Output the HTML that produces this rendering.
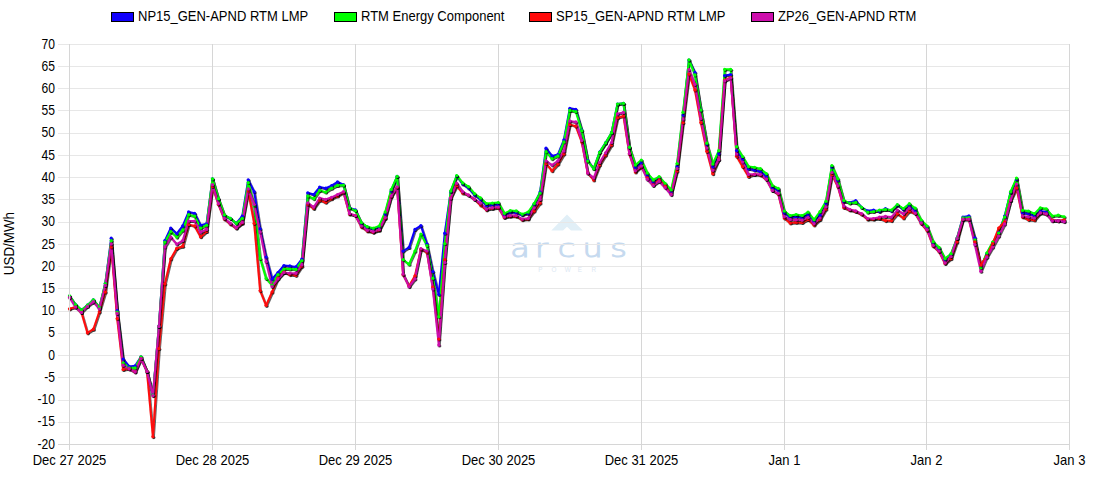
<!DOCTYPE html>
<html><head><meta charset="utf-8"><title>Chart</title>
<style>
html,body{margin:0;padding:0;background:#fff;}
body{width:1100px;height:500px;overflow:hidden;position:relative;}
svg{position:absolute;left:0;top:0;}
text{font-family:"Liberation Sans",Arial,sans-serif;font-size:13px;fill:#000;}
</style></head><body>
<svg width="1100" height="500" viewBox="0 0 1100 500">
<defs><filter id="sh" x="-5%" y="-5%" width="110%" height="110%"><feDropShadow dx="0.8" dy="1" stdDeviation="0.4" flood-color="#000" flood-opacity="0.75"/></filter></defs>
<g>
<polygon points="567,214.6 582.8,230.6 571,230.6 567,226.8 563,230.6 551.3,230.6" fill="#e1eff7"/>
<text transform="translate(0,256.5) scale(1.3,1)" x="392.46 411.6 429.05 448.15 469.35" style="font-family:'DejaVu Sans',sans-serif;font-weight:200;font-size:24.5px;fill:#c6daef;stroke:#c6daef;stroke-width:1px">arcus</text>
<text x="538.2 551.4 564.7 577.8 591.4" y="271.8" style="font-size:6.3px;fill:#dbe7f3">POWER</text>
</g>
<rect x="58" y="44" width="1012" height="1" fill="#e7e7e7"/>
<rect x="58" y="66" width="1012" height="1" fill="#e7e7e7"/>
<rect x="58" y="88" width="1012" height="1" fill="#e7e7e7"/>
<rect x="58" y="110" width="1012" height="1" fill="#e7e7e7"/>
<rect x="58" y="133" width="1012" height="1" fill="#e7e7e7"/>
<rect x="58" y="155" width="1012" height="1" fill="#e7e7e7"/>
<rect x="58" y="177" width="1012" height="1" fill="#e7e7e7"/>
<rect x="58" y="199" width="1012" height="1" fill="#e7e7e7"/>
<rect x="58" y="222" width="1012" height="1" fill="#e7e7e7"/>
<rect x="58" y="244" width="1012" height="1" fill="#e7e7e7"/>
<rect x="58" y="266" width="1012" height="1" fill="#e7e7e7"/>
<rect x="58" y="288" width="1012" height="1" fill="#e7e7e7"/>
<rect x="58" y="311" width="1012" height="1" fill="#e7e7e7"/>
<rect x="58" y="333" width="1012" height="1" fill="#e7e7e7"/>
<rect x="58" y="355" width="1012" height="1" fill="#e7e7e7"/>
<rect x="58" y="377" width="1012" height="1" fill="#e7e7e7"/>
<rect x="58" y="400" width="1012" height="1" fill="#e7e7e7"/>
<rect x="58" y="422" width="1012" height="1" fill="#e7e7e7"/>
<rect x="58" y="444" width="1012" height="1" fill="#d6d6d6"/>
<rect x="69" y="44" width="1" height="406" fill="#d6d6d6"/>
<rect x="212" y="44" width="1" height="406" fill="#d6d6d6"/>
<rect x="355" y="44" width="1" height="406" fill="#d6d6d6"/>
<rect x="498" y="44" width="1" height="406" fill="#d6d6d6"/>
<rect x="641" y="44" width="1" height="406" fill="#d6d6d6"/>
<rect x="784" y="44" width="1" height="406" fill="#d6d6d6"/>
<rect x="926" y="44" width="1" height="406" fill="#d6d6d6"/>
<rect x="1069" y="44" width="1" height="406" fill="#d6d6d6"/>
<text transform="translate(54.9,48.60) scale(0.93,1.1)" text-anchor="end">70</text>
<text transform="translate(54.9,70.82) scale(0.93,1.1)" text-anchor="end">65</text>
<text transform="translate(54.9,93.04) scale(0.93,1.1)" text-anchor="end">60</text>
<text transform="translate(54.9,115.27) scale(0.93,1.1)" text-anchor="end">55</text>
<text transform="translate(54.9,137.49) scale(0.93,1.1)" text-anchor="end">50</text>
<text transform="translate(54.9,159.71) scale(0.93,1.1)" text-anchor="end">45</text>
<text transform="translate(54.9,181.93) scale(0.93,1.1)" text-anchor="end">40</text>
<text transform="translate(54.9,204.16) scale(0.93,1.1)" text-anchor="end">35</text>
<text transform="translate(54.9,226.38) scale(0.93,1.1)" text-anchor="end">30</text>
<text transform="translate(54.9,248.60) scale(0.93,1.1)" text-anchor="end">25</text>
<text transform="translate(54.9,270.82) scale(0.93,1.1)" text-anchor="end">20</text>
<text transform="translate(54.9,293.04) scale(0.93,1.1)" text-anchor="end">15</text>
<text transform="translate(54.9,315.27) scale(0.93,1.1)" text-anchor="end">10</text>
<text transform="translate(54.9,337.49) scale(0.93,1.1)" text-anchor="end">5</text>
<text transform="translate(54.9,359.71) scale(0.93,1.1)" text-anchor="end">0</text>
<text transform="translate(54.9,381.93) scale(0.93,1.1)" text-anchor="end">-5</text>
<text transform="translate(54.9,404.16) scale(0.93,1.1)" text-anchor="end">-10</text>
<text transform="translate(54.9,426.38) scale(0.93,1.1)" text-anchor="end">-15</text>
<text transform="translate(54.9,448.60) scale(0.93,1.1)" text-anchor="end">-20</text>
<text transform="translate(69.5,465) scale(1,1.1)" text-anchor="middle">Dec 27 2025</text>
<text transform="translate(212.5,465) scale(1,1.1)" text-anchor="middle">Dec 28 2025</text>
<text transform="translate(355.5,465) scale(1,1.1)" text-anchor="middle">Dec 29 2025</text>
<text transform="translate(498.5,465) scale(1,1.1)" text-anchor="middle">Dec 30 2025</text>
<text transform="translate(641.5,465) scale(1,1.1)" text-anchor="middle">Dec 31 2025</text>
<text transform="translate(784.5,465) scale(1,1.1)" text-anchor="middle">Jan 1</text>
<text transform="translate(926.5,465) scale(1,1.1)" text-anchor="middle">Jan 2</text>
<text transform="translate(1069.5,465) scale(1,1.1)" text-anchor="middle">Jan 3</text>
<text transform="translate(13.5,243.6) rotate(-90) scale(1.03,1.1)" text-anchor="middle">USD/MWh</text>
<rect x="111.5" y="12.5" width="22" height="9" fill="#1100fc" stroke="#000" stroke-width="1"/>
<text transform="translate(138,21) scale(1,1.1)">NP15_GEN-APND RTM LMP</text>
<rect x="334.5" y="12.5" width="22" height="9" fill="#00ff00" stroke="#000" stroke-width="1"/>
<text transform="translate(361,21) scale(1,1.1)">RTM Energy Component</text>
<rect x="529.5" y="12.5" width="22" height="9" fill="#ff0a0a" stroke="#000" stroke-width="1"/>
<text transform="translate(556,21) scale(1,1.1)">SP15_GEN-APND RTM LMP</text>
<rect x="751.5" y="12.5" width="22" height="9" fill="#cd0fac" stroke="#000" stroke-width="1"/>
<text transform="translate(778,21) scale(1,1.1)">ZP26_GEN-APND RTM</text>
<g fill="none" stroke-width="2" stroke-linejoin="round" stroke-linecap="round">
<polyline points="69.50,296.0 75.46,304.6 81.41,310.0 87.37,305.2 93.32,299.8 99.28,307.4 105.24,283.6 111.19,238.2 117.15,310.6 123.10,359.0 129.06,366.4 135.02,365.8 140.97,356.8 146.93,371.4 152.88,395.0 158.84,326.4 164.80,240.6 170.75,228.0 176.71,233.6 182.66,225.9 188.62,211.9 194.58,213.3 200.53,225.2 206.49,223.8 212.44,178.8 218.40,199.0 224.36,215.5 230.31,218.3 236.27,223.2 242.22,216.2 248.18,179.8 254.14,191.7 260.09,228.7 266.05,257.0 272.00,279.0 277.96,272.5 283.92,265.5 289.87,265.9 295.83,266.9 301.78,259.2 307.74,192.8 313.70,194.5 319.65,187.1 325.61,188.2 331.56,185.7 337.52,181.9 343.48,184.7 349.43,207.8 355.39,209.9 361.34,223.2 367.30,227.2 373.26,228.8 379.21,227.4 385.17,214.1 391.12,191.0 397.08,176.3 403.04,251.0 408.99,247.4 414.95,229.4 420.90,225.6 426.86,243.8 432.82,271.6 438.77,294.4 444.73,233.2 450.68,191.6 456.64,176.0 462.60,183.9 468.55,188.1 474.51,195.1 480.46,199.3 486.42,205.6 492.38,204.9 498.33,204.2 504.29,214.7 510.24,212.0 516.20,212.7 522.16,214.8 528.11,213.4 534.07,204.3 540.02,192.1 545.98,148.2 551.94,155.9 557.89,154.5 563.85,139.8 569.80,108.3 575.76,109.3 581.72,130.0 587.67,160.5 593.63,168.5 599.58,152.0 605.54,142.9 611.50,132.7 617.45,104.0 623.41,103.3 629.36,147.4 635.32,167.3 641.28,162.4 647.23,175.0 653.19,182.0 659.14,178.5 665.10,185.0 671.06,192.5 677.01,166.6 682.97,115.0 688.92,60.0 694.88,72.4 700.84,110.0 706.79,144.3 712.75,166.7 718.70,153.7 724.66,75.5 730.62,74.5 736.57,150.6 742.53,159.0 748.48,168.7 754.44,170.1 760.40,171.5 766.35,176.4 772.31,187.6 778.26,190.0 784.22,212.7 790.18,217.3 796.13,216.6 802.09,217.3 808.04,214.5 814.00,221.5 819.96,215.2 825.91,203.3 831.87,166.9 837.82,180.2 843.78,201.5 849.74,202.5 855.69,200.7 861.65,207.3 867.60,210.8 873.56,210.1 879.52,211.5 885.47,208.7 891.43,210.8 897.38,205.0 903.34,209.5 909.30,205.4 915.25,210.3 921.21,221.5 927.16,227.1 933.12,243.0 939.08,248.5 945.03,259.5 950.99,254.5 956.94,238.3 962.90,217.0 968.86,215.9 974.81,237.8 980.77,267.0 986.72,254.0 992.68,242.8 998.64,232.5 1004.59,216.0 1010.55,192.5 1016.50,179.5 1022.46,212.7 1028.42,213.6 1034.37,215.6 1040.33,211.0 1046.28,212.0 1052.24,220.5 1058.20,220.5 1064.15,221.0" stroke="#1100fc" filter="url(#sh)"/>
<polyline points="69.50,295.8 75.46,304.6 81.41,310.0 87.37,305.2 93.32,299.8 99.28,307.4 105.24,283.6 111.19,240.6 117.15,312.0 123.10,362.8 129.06,367.8 135.02,367.8 140.97,356.8 146.93,371.4 152.88,395.0 158.84,326.4 164.80,242.0 170.75,231.5 176.71,237.1 182.66,230.1 188.62,214.7 194.58,216.1 200.53,228.0 206.49,225.2 212.44,178.8 218.40,198.7 224.36,214.8 230.31,218.3 236.27,223.2 242.22,218.3 248.18,182.6 254.14,205.7 260.09,258.5 266.05,278.4 272.00,285.0 277.96,274.6 283.92,269.0 289.87,269.0 295.83,269.3 301.78,260.6 307.74,195.9 313.70,198.7 319.65,190.3 325.61,192.1 331.56,188.2 337.52,185.4 343.48,185.1 349.43,207.8 355.39,210.6 361.34,222.5 367.30,226.7 373.26,228.1 379.21,226.0 385.17,212.0 391.12,189.6 397.08,176.3 403.04,259.6 408.99,264.2 414.95,251.0 420.90,234.0 426.86,245.6 432.82,278.2 438.77,316.7 444.73,243.6 450.68,190.9 456.64,175.5 462.60,182.9 468.55,186.7 474.51,193.7 480.46,197.9 486.42,203.5 492.38,203.1 498.33,202.5 504.29,213.3 510.24,210.6 516.20,210.9 522.16,214.1 528.11,212.0 534.07,203.6 540.02,193.1 545.98,151.7 551.94,158.7 557.89,155.9 563.85,141.9 569.80,110.4 575.76,111.5 581.72,130.7 587.67,161.0 593.63,168.7 599.58,152.3 605.54,142.8 611.50,132.7 617.45,104.0 623.41,103.3 629.36,147.2 635.32,165.0 641.28,160.0 647.23,172.9 653.19,179.9 659.14,176.7 665.10,183.4 671.06,189.7 677.01,163.5 682.97,112.2 688.92,59.8 694.88,74.9 700.84,110.0 706.79,143.2 712.75,163.9 718.70,150.6 724.66,69.3 730.62,69.3 736.57,146.7 742.53,156.5 748.48,166.6 754.44,167.3 760.40,168.7 766.35,173.6 772.31,185.5 778.26,188.3 784.22,211.0 790.18,215.5 796.13,214.5 802.09,215.5 808.04,212.1 814.00,219.7 819.96,211.7 825.91,201.2 831.87,165.5 837.82,178.8 843.78,200.4 849.74,203.1 855.69,202.4 861.65,207.3 867.60,212.2 873.56,211.5 879.52,210.1 885.47,209.4 891.43,210.1 897.38,204.5 903.34,208.5 909.30,203.7 915.25,208.2 921.21,220.1 927.16,226.0 933.12,241.7 939.08,247.4 945.03,258.6 950.99,253.7 956.94,238.3 962.90,217.8 968.86,217.6 974.81,239.8 980.77,267.7 986.72,253.0 992.68,242.0 998.64,233.0 1004.59,216.9 1010.55,191.7 1016.50,178.1 1022.46,210.3 1028.42,211.0 1034.37,213.6 1040.33,207.8 1046.28,208.8 1052.24,216.0 1058.20,215.2 1064.15,216.8" stroke="#00ff00" filter="url(#sh)"/>
<polyline points="69.50,308.8 75.46,307.0 81.41,312.4 87.37,332.8 93.32,329.2 99.28,311.8 105.24,292.0 111.19,247.0 117.15,318.6 123.10,369.4 129.06,368.8 135.02,371.8 140.97,358.6 146.93,371.4 152.88,436.6 158.84,348.6 164.80,283.8 170.75,258.8 176.71,248.3 182.66,246.2 188.62,224.5 194.58,225.9 200.53,236.7 206.49,231.5 212.44,186.5 218.40,204.3 224.36,219.0 230.31,223.9 236.27,228.1 242.22,223.2 248.18,191.0 254.14,223.3 260.09,290.6 266.05,305.3 272.00,292.0 277.96,278.0 283.92,272.0 289.87,274.6 295.83,275.3 301.78,266.2 307.74,204.3 313.70,208.5 319.65,200.1 325.61,202.2 331.56,198.7 337.52,195.9 343.48,192.4 349.43,214.1 355.39,215.5 361.34,226.8 367.30,231.0 373.26,232.3 379.21,230.2 385.17,218.3 391.12,196.6 397.08,187.5 403.04,274.6 408.99,286.0 414.95,275.8 420.90,249.2 426.86,252.2 432.82,287.2 438.77,339.0 444.73,259.6 450.68,197.9 456.64,185.7 462.60,193.0 468.55,195.1 474.51,199.3 480.46,204.9 486.42,209.8 492.38,208.4 498.33,207.7 504.29,217.5 510.24,216.2 516.20,216.2 522.16,219.7 528.11,219.0 534.07,210.9 540.02,202.9 545.98,163.6 551.94,170.7 557.89,164.0 563.85,153.8 569.80,124.4 575.76,126.1 581.72,142.0 587.67,172.9 593.63,179.9 599.58,164.8 605.54,155.0 611.50,144.8 617.45,117.7 623.41,115.9 629.36,154.0 635.32,172.0 641.28,166.6 647.23,177.8 653.19,184.8 659.14,179.9 665.10,186.2 671.06,194.0 677.01,170.9 682.97,122.6 688.92,74.1 694.88,89.9 700.84,122.6 706.79,151.3 712.75,173.7 718.70,159.0 724.66,80.1 730.62,77.5 736.57,156.2 742.53,166.6 748.48,176.4 754.44,174.3 760.40,175.0 766.35,179.2 772.31,190.4 778.26,194.0 784.22,218.0 790.18,222.9 796.13,222.2 802.09,222.5 808.04,219.4 814.00,225.0 819.96,219.4 825.91,208.9 831.87,174.6 837.82,186.5 843.78,207.5 849.74,210.0 855.69,211.5 861.65,214.3 867.60,219.2 873.56,219.2 879.52,218.5 885.47,220.6 891.43,220.6 897.38,213.6 903.34,218.0 909.30,211.0 915.25,213.5 921.21,223.5 927.16,230.5 933.12,246.0 939.08,251.5 945.03,263.5 950.99,258.6 956.94,241.8 962.90,219.5 968.86,219.5 974.81,241.8 980.77,264.9 986.72,256.0 992.68,243.5 998.64,228.0 1004.59,221.8 1010.55,200.5 1016.50,187.9 1022.46,216.8 1028.42,219.6 1034.37,220.0 1040.33,213.0 1046.28,214.0 1052.24,220.0 1058.20,220.8 1064.15,219.8" stroke="#ff0a0a" filter="url(#sh)"/>
<polyline points="69.50,297.4 75.46,307.0 81.41,312.4 87.37,306.4 93.32,301.6 99.28,308.8 105.24,285.4 111.19,243.8 117.15,313.4 123.10,365.2 129.06,368.8 135.02,371.8 140.97,358.6 146.93,371.4 152.88,395.6 158.84,326.4 164.80,246.9 170.75,237.1 176.71,244.1 182.66,240.6 188.62,221.0 194.58,221.0 200.53,232.2 206.49,229.4 212.44,184.7 218.40,203.6 224.36,218.3 230.31,223.2 236.27,227.7 242.22,222.5 248.18,188.9 254.14,204.3 260.09,231.9 266.05,261.6 272.00,286.5 277.96,278.8 283.92,272.5 289.87,273.2 295.83,273.2 301.78,264.8 307.74,202.9 313.70,207.1 319.65,198.0 325.61,199.4 331.56,197.3 337.52,194.5 343.48,191.7 349.43,213.4 355.39,215.5 361.34,226.0 367.30,230.2 373.26,231.6 379.21,229.5 385.17,217.6 391.12,195.9 397.08,186.8 403.04,274.0 408.99,286.6 414.95,278.8 420.90,248.6 426.86,251.0 432.82,289.0 438.77,345.0 444.73,262.4 450.68,197.9 456.64,183.2 462.60,191.6 468.55,195.1 474.51,199.3 480.46,203.1 486.42,209.1 492.38,207.7 498.33,207.0 504.29,216.8 510.24,215.5 516.20,215.5 522.16,219.0 528.11,218.3 534.07,207.8 540.02,199.4 545.98,160.8 551.94,165.0 557.89,160.8 563.85,151.0 569.80,120.9 575.76,121.9 581.72,140.5 587.67,172.9 593.63,177.8 599.58,162.5 605.54,152.8 611.50,142.5 617.45,113.8 623.41,112.4 629.36,153.5 635.32,170.6 641.28,165.9 647.23,179.2 653.19,185.5 659.14,181.3 665.10,187.6 671.06,194.6 677.01,168.5 682.97,119.0 688.92,69.6 694.88,84.3 700.84,118.4 706.79,148.0 712.75,170.2 718.70,159.7 724.66,80.8 730.62,78.0 736.57,154.0 742.53,162.0 748.48,174.3 754.44,174.3 760.40,174.3 766.35,179.2 772.31,190.4 778.26,193.3 784.22,216.6 790.18,219.4 796.13,219.7 802.09,220.1 808.04,217.3 814.00,223.6 819.96,218.0 825.91,206.8 831.87,172.5 837.82,185.8 843.78,206.0 849.74,209.4 855.69,210.8 861.65,213.6 867.60,218.5 873.56,218.5 879.52,217.1 885.47,216.4 891.43,217.1 897.38,210.1 903.34,213.7 909.30,208.2 915.25,213.1 921.21,222.9 927.16,229.6 933.12,245.3 939.08,250.9 945.03,262.8 950.99,256.5 956.94,238.5 962.90,219.2 968.86,219.0 974.81,244.6 980.77,271.2 986.72,257.2 992.68,247.0 998.64,236.0 1004.59,223.9 1010.55,200.1 1016.50,184.0 1022.46,215.9 1028.42,216.8 1034.37,218.0 1040.33,212.8 1046.28,213.8 1052.24,220.8 1058.20,220.8 1064.15,221.6" stroke="#cd0fac" filter="url(#sh)"/>
</g>
<g fill="#1100fc" filter="url(#sh)">
<circle cx="69.50" cy="296.0" r="1.6"/><circle cx="75.46" cy="304.6" r="1.6"/><circle cx="81.41" cy="310.0" r="1.6"/><circle cx="87.37" cy="305.2" r="1.6"/><circle cx="93.32" cy="299.8" r="1.6"/><circle cx="99.28" cy="307.4" r="1.6"/><circle cx="105.24" cy="283.6" r="1.6"/><circle cx="111.19" cy="238.2" r="1.6"/><circle cx="117.15" cy="310.6" r="1.6"/><circle cx="123.10" cy="359.0" r="1.6"/><circle cx="129.06" cy="366.4" r="1.6"/><circle cx="135.02" cy="365.8" r="1.6"/><circle cx="140.97" cy="356.8" r="1.6"/><circle cx="146.93" cy="371.4" r="1.6"/><circle cx="152.88" cy="395.0" r="1.6"/><circle cx="158.84" cy="326.4" r="1.6"/><circle cx="164.80" cy="240.6" r="1.6"/><circle cx="170.75" cy="228.0" r="1.6"/><circle cx="176.71" cy="233.6" r="1.6"/><circle cx="182.66" cy="225.9" r="1.6"/><circle cx="188.62" cy="211.9" r="1.6"/><circle cx="194.58" cy="213.3" r="1.6"/><circle cx="200.53" cy="225.2" r="1.6"/><circle cx="206.49" cy="223.8" r="1.6"/><circle cx="212.44" cy="178.8" r="1.6"/><circle cx="218.40" cy="199.0" r="1.6"/><circle cx="224.36" cy="215.5" r="1.6"/><circle cx="230.31" cy="218.3" r="1.6"/><circle cx="236.27" cy="223.2" r="1.6"/><circle cx="242.22" cy="216.2" r="1.6"/><circle cx="248.18" cy="179.8" r="1.6"/><circle cx="254.14" cy="191.7" r="1.6"/><circle cx="260.09" cy="228.7" r="1.6"/><circle cx="266.05" cy="257.0" r="1.6"/><circle cx="272.00" cy="279.0" r="1.6"/><circle cx="277.96" cy="272.5" r="1.6"/><circle cx="283.92" cy="265.5" r="1.6"/><circle cx="289.87" cy="265.9" r="1.6"/><circle cx="295.83" cy="266.9" r="1.6"/><circle cx="301.78" cy="259.2" r="1.6"/><circle cx="307.74" cy="192.8" r="1.6"/><circle cx="313.70" cy="194.5" r="1.6"/><circle cx="319.65" cy="187.1" r="1.6"/><circle cx="325.61" cy="188.2" r="1.6"/><circle cx="331.56" cy="185.7" r="1.6"/><circle cx="337.52" cy="181.9" r="1.6"/><circle cx="343.48" cy="184.7" r="1.6"/><circle cx="349.43" cy="207.8" r="1.6"/><circle cx="355.39" cy="209.9" r="1.6"/><circle cx="361.34" cy="223.2" r="1.6"/><circle cx="367.30" cy="227.2" r="1.6"/><circle cx="373.26" cy="228.8" r="1.6"/><circle cx="379.21" cy="227.4" r="1.6"/><circle cx="385.17" cy="214.1" r="1.6"/><circle cx="391.12" cy="191.0" r="1.6"/><circle cx="397.08" cy="176.3" r="1.6"/><circle cx="403.04" cy="251.0" r="1.6"/><circle cx="408.99" cy="247.4" r="1.6"/><circle cx="414.95" cy="229.4" r="1.6"/><circle cx="420.90" cy="225.6" r="1.6"/><circle cx="426.86" cy="243.8" r="1.6"/><circle cx="432.82" cy="271.6" r="1.6"/><circle cx="438.77" cy="294.4" r="1.6"/><circle cx="444.73" cy="233.2" r="1.6"/><circle cx="450.68" cy="191.6" r="1.6"/><circle cx="456.64" cy="176.0" r="1.6"/><circle cx="462.60" cy="183.9" r="1.6"/><circle cx="468.55" cy="188.1" r="1.6"/><circle cx="474.51" cy="195.1" r="1.6"/><circle cx="480.46" cy="199.3" r="1.6"/><circle cx="486.42" cy="205.6" r="1.6"/><circle cx="492.38" cy="204.9" r="1.6"/><circle cx="498.33" cy="204.2" r="1.6"/><circle cx="504.29" cy="214.7" r="1.6"/><circle cx="510.24" cy="212.0" r="1.6"/><circle cx="516.20" cy="212.7" r="1.6"/><circle cx="522.16" cy="214.8" r="1.6"/><circle cx="528.11" cy="213.4" r="1.6"/><circle cx="534.07" cy="204.3" r="1.6"/><circle cx="540.02" cy="192.1" r="1.6"/><circle cx="545.98" cy="148.2" r="1.6"/><circle cx="551.94" cy="155.9" r="1.6"/><circle cx="557.89" cy="154.5" r="1.6"/><circle cx="563.85" cy="139.8" r="1.6"/><circle cx="569.80" cy="108.3" r="1.6"/><circle cx="575.76" cy="109.3" r="1.6"/><circle cx="581.72" cy="130.0" r="1.6"/><circle cx="587.67" cy="160.5" r="1.6"/><circle cx="593.63" cy="168.5" r="1.6"/><circle cx="599.58" cy="152.0" r="1.6"/><circle cx="605.54" cy="142.9" r="1.6"/><circle cx="611.50" cy="132.7" r="1.6"/><circle cx="617.45" cy="104.0" r="1.6"/><circle cx="623.41" cy="103.3" r="1.6"/><circle cx="629.36" cy="147.4" r="1.6"/><circle cx="635.32" cy="167.3" r="1.6"/><circle cx="641.28" cy="162.4" r="1.6"/><circle cx="647.23" cy="175.0" r="1.6"/><circle cx="653.19" cy="182.0" r="1.6"/><circle cx="659.14" cy="178.5" r="1.6"/><circle cx="665.10" cy="185.0" r="1.6"/><circle cx="671.06" cy="192.5" r="1.6"/><circle cx="677.01" cy="166.6" r="1.6"/><circle cx="682.97" cy="115.0" r="1.6"/><circle cx="688.92" cy="60.0" r="1.6"/><circle cx="694.88" cy="72.4" r="1.6"/><circle cx="700.84" cy="110.0" r="1.6"/><circle cx="706.79" cy="144.3" r="1.6"/><circle cx="712.75" cy="166.7" r="1.6"/><circle cx="718.70" cy="153.7" r="1.6"/><circle cx="724.66" cy="75.5" r="1.6"/><circle cx="730.62" cy="74.5" r="1.6"/><circle cx="736.57" cy="150.6" r="1.6"/><circle cx="742.53" cy="159.0" r="1.6"/><circle cx="748.48" cy="168.7" r="1.6"/><circle cx="754.44" cy="170.1" r="1.6"/><circle cx="760.40" cy="171.5" r="1.6"/><circle cx="766.35" cy="176.4" r="1.6"/><circle cx="772.31" cy="187.6" r="1.6"/><circle cx="778.26" cy="190.0" r="1.6"/><circle cx="784.22" cy="212.7" r="1.6"/><circle cx="790.18" cy="217.3" r="1.6"/><circle cx="796.13" cy="216.6" r="1.6"/><circle cx="802.09" cy="217.3" r="1.6"/><circle cx="808.04" cy="214.5" r="1.6"/><circle cx="814.00" cy="221.5" r="1.6"/><circle cx="819.96" cy="215.2" r="1.6"/><circle cx="825.91" cy="203.3" r="1.6"/><circle cx="831.87" cy="166.9" r="1.6"/><circle cx="837.82" cy="180.2" r="1.6"/><circle cx="843.78" cy="201.5" r="1.6"/><circle cx="849.74" cy="202.5" r="1.6"/><circle cx="855.69" cy="200.7" r="1.6"/><circle cx="861.65" cy="207.3" r="1.6"/><circle cx="867.60" cy="210.8" r="1.6"/><circle cx="873.56" cy="210.1" r="1.6"/><circle cx="879.52" cy="211.5" r="1.6"/><circle cx="885.47" cy="208.7" r="1.6"/><circle cx="891.43" cy="210.8" r="1.6"/><circle cx="897.38" cy="205.0" r="1.6"/><circle cx="903.34" cy="209.5" r="1.6"/><circle cx="909.30" cy="205.4" r="1.6"/><circle cx="915.25" cy="210.3" r="1.6"/><circle cx="921.21" cy="221.5" r="1.6"/><circle cx="927.16" cy="227.1" r="1.6"/><circle cx="933.12" cy="243.0" r="1.6"/><circle cx="939.08" cy="248.5" r="1.6"/><circle cx="945.03" cy="259.5" r="1.6"/><circle cx="950.99" cy="254.5" r="1.6"/><circle cx="956.94" cy="238.3" r="1.6"/><circle cx="962.90" cy="217.0" r="1.6"/><circle cx="968.86" cy="215.9" r="1.6"/><circle cx="974.81" cy="237.8" r="1.6"/><circle cx="980.77" cy="267.0" r="1.6"/><circle cx="986.72" cy="254.0" r="1.6"/><circle cx="992.68" cy="242.8" r="1.6"/><circle cx="998.64" cy="232.5" r="1.6"/><circle cx="1004.59" cy="216.0" r="1.6"/><circle cx="1010.55" cy="192.5" r="1.6"/><circle cx="1016.50" cy="179.5" r="1.6"/><circle cx="1022.46" cy="212.7" r="1.6"/><circle cx="1028.42" cy="213.6" r="1.6"/><circle cx="1034.37" cy="215.6" r="1.6"/><circle cx="1040.33" cy="211.0" r="1.6"/><circle cx="1046.28" cy="212.0" r="1.6"/><circle cx="1052.24" cy="220.5" r="1.6"/><circle cx="1058.20" cy="220.5" r="1.6"/><circle cx="1064.15" cy="221.0" r="1.6"/>
</g>
<g fill="#00ff00" filter="url(#sh)">
<circle cx="69.50" cy="295.8" r="1.6"/><circle cx="75.46" cy="304.6" r="1.6"/><circle cx="81.41" cy="310.0" r="1.6"/><circle cx="87.37" cy="305.2" r="1.6"/><circle cx="93.32" cy="299.8" r="1.6"/><circle cx="99.28" cy="307.4" r="1.6"/><circle cx="105.24" cy="283.6" r="1.6"/><circle cx="111.19" cy="240.6" r="1.6"/><circle cx="117.15" cy="312.0" r="1.6"/><circle cx="123.10" cy="362.8" r="1.6"/><circle cx="129.06" cy="367.8" r="1.6"/><circle cx="135.02" cy="367.8" r="1.6"/><circle cx="140.97" cy="356.8" r="1.6"/><circle cx="146.93" cy="371.4" r="1.6"/><circle cx="152.88" cy="395.0" r="1.6"/><circle cx="158.84" cy="326.4" r="1.6"/><circle cx="164.80" cy="242.0" r="1.6"/><circle cx="170.75" cy="231.5" r="1.6"/><circle cx="176.71" cy="237.1" r="1.6"/><circle cx="182.66" cy="230.1" r="1.6"/><circle cx="188.62" cy="214.7" r="1.6"/><circle cx="194.58" cy="216.1" r="1.6"/><circle cx="200.53" cy="228.0" r="1.6"/><circle cx="206.49" cy="225.2" r="1.6"/><circle cx="212.44" cy="178.8" r="1.6"/><circle cx="218.40" cy="198.7" r="1.6"/><circle cx="224.36" cy="214.8" r="1.6"/><circle cx="230.31" cy="218.3" r="1.6"/><circle cx="236.27" cy="223.2" r="1.6"/><circle cx="242.22" cy="218.3" r="1.6"/><circle cx="248.18" cy="182.6" r="1.6"/><circle cx="254.14" cy="205.7" r="1.6"/><circle cx="260.09" cy="258.5" r="1.6"/><circle cx="266.05" cy="278.4" r="1.6"/><circle cx="272.00" cy="285.0" r="1.6"/><circle cx="277.96" cy="274.6" r="1.6"/><circle cx="283.92" cy="269.0" r="1.6"/><circle cx="289.87" cy="269.0" r="1.6"/><circle cx="295.83" cy="269.3" r="1.6"/><circle cx="301.78" cy="260.6" r="1.6"/><circle cx="307.74" cy="195.9" r="1.6"/><circle cx="313.70" cy="198.7" r="1.6"/><circle cx="319.65" cy="190.3" r="1.6"/><circle cx="325.61" cy="192.1" r="1.6"/><circle cx="331.56" cy="188.2" r="1.6"/><circle cx="337.52" cy="185.4" r="1.6"/><circle cx="343.48" cy="185.1" r="1.6"/><circle cx="349.43" cy="207.8" r="1.6"/><circle cx="355.39" cy="210.6" r="1.6"/><circle cx="361.34" cy="222.5" r="1.6"/><circle cx="367.30" cy="226.7" r="1.6"/><circle cx="373.26" cy="228.1" r="1.6"/><circle cx="379.21" cy="226.0" r="1.6"/><circle cx="385.17" cy="212.0" r="1.6"/><circle cx="391.12" cy="189.6" r="1.6"/><circle cx="397.08" cy="176.3" r="1.6"/><circle cx="403.04" cy="259.6" r="1.6"/><circle cx="408.99" cy="264.2" r="1.6"/><circle cx="414.95" cy="251.0" r="1.6"/><circle cx="420.90" cy="234.0" r="1.6"/><circle cx="426.86" cy="245.6" r="1.6"/><circle cx="432.82" cy="278.2" r="1.6"/><circle cx="438.77" cy="316.7" r="1.6"/><circle cx="444.73" cy="243.6" r="1.6"/><circle cx="450.68" cy="190.9" r="1.6"/><circle cx="456.64" cy="175.5" r="1.6"/><circle cx="462.60" cy="182.9" r="1.6"/><circle cx="468.55" cy="186.7" r="1.6"/><circle cx="474.51" cy="193.7" r="1.6"/><circle cx="480.46" cy="197.9" r="1.6"/><circle cx="486.42" cy="203.5" r="1.6"/><circle cx="492.38" cy="203.1" r="1.6"/><circle cx="498.33" cy="202.5" r="1.6"/><circle cx="504.29" cy="213.3" r="1.6"/><circle cx="510.24" cy="210.6" r="1.6"/><circle cx="516.20" cy="210.9" r="1.6"/><circle cx="522.16" cy="214.1" r="1.6"/><circle cx="528.11" cy="212.0" r="1.6"/><circle cx="534.07" cy="203.6" r="1.6"/><circle cx="540.02" cy="193.1" r="1.6"/><circle cx="545.98" cy="151.7" r="1.6"/><circle cx="551.94" cy="158.7" r="1.6"/><circle cx="557.89" cy="155.9" r="1.6"/><circle cx="563.85" cy="141.9" r="1.6"/><circle cx="569.80" cy="110.4" r="1.6"/><circle cx="575.76" cy="111.5" r="1.6"/><circle cx="581.72" cy="130.7" r="1.6"/><circle cx="587.67" cy="161.0" r="1.6"/><circle cx="593.63" cy="168.7" r="1.6"/><circle cx="599.58" cy="152.3" r="1.6"/><circle cx="605.54" cy="142.8" r="1.6"/><circle cx="611.50" cy="132.7" r="1.6"/><circle cx="617.45" cy="104.0" r="1.6"/><circle cx="623.41" cy="103.3" r="1.6"/><circle cx="629.36" cy="147.2" r="1.6"/><circle cx="635.32" cy="165.0" r="1.6"/><circle cx="641.28" cy="160.0" r="1.6"/><circle cx="647.23" cy="172.9" r="1.6"/><circle cx="653.19" cy="179.9" r="1.6"/><circle cx="659.14" cy="176.7" r="1.6"/><circle cx="665.10" cy="183.4" r="1.6"/><circle cx="671.06" cy="189.7" r="1.6"/><circle cx="677.01" cy="163.5" r="1.6"/><circle cx="682.97" cy="112.2" r="1.6"/><circle cx="688.92" cy="59.8" r="1.6"/><circle cx="694.88" cy="74.9" r="1.6"/><circle cx="700.84" cy="110.0" r="1.6"/><circle cx="706.79" cy="143.2" r="1.6"/><circle cx="712.75" cy="163.9" r="1.6"/><circle cx="718.70" cy="150.6" r="1.6"/><circle cx="724.66" cy="69.3" r="1.6"/><circle cx="730.62" cy="69.3" r="1.6"/><circle cx="736.57" cy="146.7" r="1.6"/><circle cx="742.53" cy="156.5" r="1.6"/><circle cx="748.48" cy="166.6" r="1.6"/><circle cx="754.44" cy="167.3" r="1.6"/><circle cx="760.40" cy="168.7" r="1.6"/><circle cx="766.35" cy="173.6" r="1.6"/><circle cx="772.31" cy="185.5" r="1.6"/><circle cx="778.26" cy="188.3" r="1.6"/><circle cx="784.22" cy="211.0" r="1.6"/><circle cx="790.18" cy="215.5" r="1.6"/><circle cx="796.13" cy="214.5" r="1.6"/><circle cx="802.09" cy="215.5" r="1.6"/><circle cx="808.04" cy="212.1" r="1.6"/><circle cx="814.00" cy="219.7" r="1.6"/><circle cx="819.96" cy="211.7" r="1.6"/><circle cx="825.91" cy="201.2" r="1.6"/><circle cx="831.87" cy="165.5" r="1.6"/><circle cx="837.82" cy="178.8" r="1.6"/><circle cx="843.78" cy="200.4" r="1.6"/><circle cx="849.74" cy="203.1" r="1.6"/><circle cx="855.69" cy="202.4" r="1.6"/><circle cx="861.65" cy="207.3" r="1.6"/><circle cx="867.60" cy="212.2" r="1.6"/><circle cx="873.56" cy="211.5" r="1.6"/><circle cx="879.52" cy="210.1" r="1.6"/><circle cx="885.47" cy="209.4" r="1.6"/><circle cx="891.43" cy="210.1" r="1.6"/><circle cx="897.38" cy="204.5" r="1.6"/><circle cx="903.34" cy="208.5" r="1.6"/><circle cx="909.30" cy="203.7" r="1.6"/><circle cx="915.25" cy="208.2" r="1.6"/><circle cx="921.21" cy="220.1" r="1.6"/><circle cx="927.16" cy="226.0" r="1.6"/><circle cx="933.12" cy="241.7" r="1.6"/><circle cx="939.08" cy="247.4" r="1.6"/><circle cx="945.03" cy="258.6" r="1.6"/><circle cx="950.99" cy="253.7" r="1.6"/><circle cx="956.94" cy="238.3" r="1.6"/><circle cx="962.90" cy="217.8" r="1.6"/><circle cx="968.86" cy="217.6" r="1.6"/><circle cx="974.81" cy="239.8" r="1.6"/><circle cx="980.77" cy="267.7" r="1.6"/><circle cx="986.72" cy="253.0" r="1.6"/><circle cx="992.68" cy="242.0" r="1.6"/><circle cx="998.64" cy="233.0" r="1.6"/><circle cx="1004.59" cy="216.9" r="1.6"/><circle cx="1010.55" cy="191.7" r="1.6"/><circle cx="1016.50" cy="178.1" r="1.6"/><circle cx="1022.46" cy="210.3" r="1.6"/><circle cx="1028.42" cy="211.0" r="1.6"/><circle cx="1034.37" cy="213.6" r="1.6"/><circle cx="1040.33" cy="207.8" r="1.6"/><circle cx="1046.28" cy="208.8" r="1.6"/><circle cx="1052.24" cy="216.0" r="1.6"/><circle cx="1058.20" cy="215.2" r="1.6"/><circle cx="1064.15" cy="216.8" r="1.6"/>
</g>
<g fill="#ff0a0a" filter="url(#sh)">
<circle cx="69.50" cy="308.8" r="1.6"/><circle cx="75.46" cy="307.0" r="1.6"/><circle cx="81.41" cy="312.4" r="1.6"/><circle cx="87.37" cy="332.8" r="1.6"/><circle cx="93.32" cy="329.2" r="1.6"/><circle cx="99.28" cy="311.8" r="1.6"/><circle cx="105.24" cy="292.0" r="1.6"/><circle cx="111.19" cy="247.0" r="1.6"/><circle cx="117.15" cy="318.6" r="1.6"/><circle cx="123.10" cy="369.4" r="1.6"/><circle cx="129.06" cy="368.8" r="1.6"/><circle cx="135.02" cy="371.8" r="1.6"/><circle cx="140.97" cy="358.6" r="1.6"/><circle cx="146.93" cy="371.4" r="1.6"/><circle cx="152.88" cy="436.6" r="1.6"/><circle cx="158.84" cy="348.6" r="1.6"/><circle cx="164.80" cy="283.8" r="1.6"/><circle cx="170.75" cy="258.8" r="1.6"/><circle cx="176.71" cy="248.3" r="1.6"/><circle cx="182.66" cy="246.2" r="1.6"/><circle cx="188.62" cy="224.5" r="1.6"/><circle cx="194.58" cy="225.9" r="1.6"/><circle cx="200.53" cy="236.7" r="1.6"/><circle cx="206.49" cy="231.5" r="1.6"/><circle cx="212.44" cy="186.5" r="1.6"/><circle cx="218.40" cy="204.3" r="1.6"/><circle cx="224.36" cy="219.0" r="1.6"/><circle cx="230.31" cy="223.9" r="1.6"/><circle cx="236.27" cy="228.1" r="1.6"/><circle cx="242.22" cy="223.2" r="1.6"/><circle cx="248.18" cy="191.0" r="1.6"/><circle cx="254.14" cy="223.3" r="1.6"/><circle cx="260.09" cy="290.6" r="1.6"/><circle cx="266.05" cy="305.3" r="1.6"/><circle cx="272.00" cy="292.0" r="1.6"/><circle cx="277.96" cy="278.0" r="1.6"/><circle cx="283.92" cy="272.0" r="1.6"/><circle cx="289.87" cy="274.6" r="1.6"/><circle cx="295.83" cy="275.3" r="1.6"/><circle cx="301.78" cy="266.2" r="1.6"/><circle cx="307.74" cy="204.3" r="1.6"/><circle cx="313.70" cy="208.5" r="1.6"/><circle cx="319.65" cy="200.1" r="1.6"/><circle cx="325.61" cy="202.2" r="1.6"/><circle cx="331.56" cy="198.7" r="1.6"/><circle cx="337.52" cy="195.9" r="1.6"/><circle cx="343.48" cy="192.4" r="1.6"/><circle cx="349.43" cy="214.1" r="1.6"/><circle cx="355.39" cy="215.5" r="1.6"/><circle cx="361.34" cy="226.8" r="1.6"/><circle cx="367.30" cy="231.0" r="1.6"/><circle cx="373.26" cy="232.3" r="1.6"/><circle cx="379.21" cy="230.2" r="1.6"/><circle cx="385.17" cy="218.3" r="1.6"/><circle cx="391.12" cy="196.6" r="1.6"/><circle cx="397.08" cy="187.5" r="1.6"/><circle cx="403.04" cy="274.6" r="1.6"/><circle cx="408.99" cy="286.0" r="1.6"/><circle cx="414.95" cy="275.8" r="1.6"/><circle cx="420.90" cy="249.2" r="1.6"/><circle cx="426.86" cy="252.2" r="1.6"/><circle cx="432.82" cy="287.2" r="1.6"/><circle cx="438.77" cy="339.0" r="1.6"/><circle cx="444.73" cy="259.6" r="1.6"/><circle cx="450.68" cy="197.9" r="1.6"/><circle cx="456.64" cy="185.7" r="1.6"/><circle cx="462.60" cy="193.0" r="1.6"/><circle cx="468.55" cy="195.1" r="1.6"/><circle cx="474.51" cy="199.3" r="1.6"/><circle cx="480.46" cy="204.9" r="1.6"/><circle cx="486.42" cy="209.8" r="1.6"/><circle cx="492.38" cy="208.4" r="1.6"/><circle cx="498.33" cy="207.7" r="1.6"/><circle cx="504.29" cy="217.5" r="1.6"/><circle cx="510.24" cy="216.2" r="1.6"/><circle cx="516.20" cy="216.2" r="1.6"/><circle cx="522.16" cy="219.7" r="1.6"/><circle cx="528.11" cy="219.0" r="1.6"/><circle cx="534.07" cy="210.9" r="1.6"/><circle cx="540.02" cy="202.9" r="1.6"/><circle cx="545.98" cy="163.6" r="1.6"/><circle cx="551.94" cy="170.7" r="1.6"/><circle cx="557.89" cy="164.0" r="1.6"/><circle cx="563.85" cy="153.8" r="1.6"/><circle cx="569.80" cy="124.4" r="1.6"/><circle cx="575.76" cy="126.1" r="1.6"/><circle cx="581.72" cy="142.0" r="1.6"/><circle cx="587.67" cy="172.9" r="1.6"/><circle cx="593.63" cy="179.9" r="1.6"/><circle cx="599.58" cy="164.8" r="1.6"/><circle cx="605.54" cy="155.0" r="1.6"/><circle cx="611.50" cy="144.8" r="1.6"/><circle cx="617.45" cy="117.7" r="1.6"/><circle cx="623.41" cy="115.9" r="1.6"/><circle cx="629.36" cy="154.0" r="1.6"/><circle cx="635.32" cy="172.0" r="1.6"/><circle cx="641.28" cy="166.6" r="1.6"/><circle cx="647.23" cy="177.8" r="1.6"/><circle cx="653.19" cy="184.8" r="1.6"/><circle cx="659.14" cy="179.9" r="1.6"/><circle cx="665.10" cy="186.2" r="1.6"/><circle cx="671.06" cy="194.0" r="1.6"/><circle cx="677.01" cy="170.9" r="1.6"/><circle cx="682.97" cy="122.6" r="1.6"/><circle cx="688.92" cy="74.1" r="1.6"/><circle cx="694.88" cy="89.9" r="1.6"/><circle cx="700.84" cy="122.6" r="1.6"/><circle cx="706.79" cy="151.3" r="1.6"/><circle cx="712.75" cy="173.7" r="1.6"/><circle cx="718.70" cy="159.0" r="1.6"/><circle cx="724.66" cy="80.1" r="1.6"/><circle cx="730.62" cy="77.5" r="1.6"/><circle cx="736.57" cy="156.2" r="1.6"/><circle cx="742.53" cy="166.6" r="1.6"/><circle cx="748.48" cy="176.4" r="1.6"/><circle cx="754.44" cy="174.3" r="1.6"/><circle cx="760.40" cy="175.0" r="1.6"/><circle cx="766.35" cy="179.2" r="1.6"/><circle cx="772.31" cy="190.4" r="1.6"/><circle cx="778.26" cy="194.0" r="1.6"/><circle cx="784.22" cy="218.0" r="1.6"/><circle cx="790.18" cy="222.9" r="1.6"/><circle cx="796.13" cy="222.2" r="1.6"/><circle cx="802.09" cy="222.5" r="1.6"/><circle cx="808.04" cy="219.4" r="1.6"/><circle cx="814.00" cy="225.0" r="1.6"/><circle cx="819.96" cy="219.4" r="1.6"/><circle cx="825.91" cy="208.9" r="1.6"/><circle cx="831.87" cy="174.6" r="1.6"/><circle cx="837.82" cy="186.5" r="1.6"/><circle cx="843.78" cy="207.5" r="1.6"/><circle cx="849.74" cy="210.0" r="1.6"/><circle cx="855.69" cy="211.5" r="1.6"/><circle cx="861.65" cy="214.3" r="1.6"/><circle cx="867.60" cy="219.2" r="1.6"/><circle cx="873.56" cy="219.2" r="1.6"/><circle cx="879.52" cy="218.5" r="1.6"/><circle cx="885.47" cy="220.6" r="1.6"/><circle cx="891.43" cy="220.6" r="1.6"/><circle cx="897.38" cy="213.6" r="1.6"/><circle cx="903.34" cy="218.0" r="1.6"/><circle cx="909.30" cy="211.0" r="1.6"/><circle cx="915.25" cy="213.5" r="1.6"/><circle cx="921.21" cy="223.5" r="1.6"/><circle cx="927.16" cy="230.5" r="1.6"/><circle cx="933.12" cy="246.0" r="1.6"/><circle cx="939.08" cy="251.5" r="1.6"/><circle cx="945.03" cy="263.5" r="1.6"/><circle cx="950.99" cy="258.6" r="1.6"/><circle cx="956.94" cy="241.8" r="1.6"/><circle cx="962.90" cy="219.5" r="1.6"/><circle cx="968.86" cy="219.5" r="1.6"/><circle cx="974.81" cy="241.8" r="1.6"/><circle cx="980.77" cy="264.9" r="1.6"/><circle cx="986.72" cy="256.0" r="1.6"/><circle cx="992.68" cy="243.5" r="1.6"/><circle cx="998.64" cy="228.0" r="1.6"/><circle cx="1004.59" cy="221.8" r="1.6"/><circle cx="1010.55" cy="200.5" r="1.6"/><circle cx="1016.50" cy="187.9" r="1.6"/><circle cx="1022.46" cy="216.8" r="1.6"/><circle cx="1028.42" cy="219.6" r="1.6"/><circle cx="1034.37" cy="220.0" r="1.6"/><circle cx="1040.33" cy="213.0" r="1.6"/><circle cx="1046.28" cy="214.0" r="1.6"/><circle cx="1052.24" cy="220.0" r="1.6"/><circle cx="1058.20" cy="220.8" r="1.6"/><circle cx="1064.15" cy="219.8" r="1.6"/>
</g>
<g fill="#cd0fac" filter="url(#sh)">
<circle cx="69.50" cy="297.4" r="1.6"/><circle cx="75.46" cy="307.0" r="1.6"/><circle cx="81.41" cy="312.4" r="1.6"/><circle cx="87.37" cy="306.4" r="1.6"/><circle cx="93.32" cy="301.6" r="1.6"/><circle cx="99.28" cy="308.8" r="1.6"/><circle cx="105.24" cy="285.4" r="1.6"/><circle cx="111.19" cy="243.8" r="1.6"/><circle cx="117.15" cy="313.4" r="1.6"/><circle cx="123.10" cy="365.2" r="1.6"/><circle cx="129.06" cy="368.8" r="1.6"/><circle cx="135.02" cy="371.8" r="1.6"/><circle cx="140.97" cy="358.6" r="1.6"/><circle cx="146.93" cy="371.4" r="1.6"/><circle cx="152.88" cy="395.6" r="1.6"/><circle cx="158.84" cy="326.4" r="1.6"/><circle cx="164.80" cy="246.9" r="1.6"/><circle cx="170.75" cy="237.1" r="1.6"/><circle cx="176.71" cy="244.1" r="1.6"/><circle cx="182.66" cy="240.6" r="1.6"/><circle cx="188.62" cy="221.0" r="1.6"/><circle cx="194.58" cy="221.0" r="1.6"/><circle cx="200.53" cy="232.2" r="1.6"/><circle cx="206.49" cy="229.4" r="1.6"/><circle cx="212.44" cy="184.7" r="1.6"/><circle cx="218.40" cy="203.6" r="1.6"/><circle cx="224.36" cy="218.3" r="1.6"/><circle cx="230.31" cy="223.2" r="1.6"/><circle cx="236.27" cy="227.7" r="1.6"/><circle cx="242.22" cy="222.5" r="1.6"/><circle cx="248.18" cy="188.9" r="1.6"/><circle cx="254.14" cy="204.3" r="1.6"/><circle cx="260.09" cy="231.9" r="1.6"/><circle cx="266.05" cy="261.6" r="1.6"/><circle cx="272.00" cy="286.5" r="1.6"/><circle cx="277.96" cy="278.8" r="1.6"/><circle cx="283.92" cy="272.5" r="1.6"/><circle cx="289.87" cy="273.2" r="1.6"/><circle cx="295.83" cy="273.2" r="1.6"/><circle cx="301.78" cy="264.8" r="1.6"/><circle cx="307.74" cy="202.9" r="1.6"/><circle cx="313.70" cy="207.1" r="1.6"/><circle cx="319.65" cy="198.0" r="1.6"/><circle cx="325.61" cy="199.4" r="1.6"/><circle cx="331.56" cy="197.3" r="1.6"/><circle cx="337.52" cy="194.5" r="1.6"/><circle cx="343.48" cy="191.7" r="1.6"/><circle cx="349.43" cy="213.4" r="1.6"/><circle cx="355.39" cy="215.5" r="1.6"/><circle cx="361.34" cy="226.0" r="1.6"/><circle cx="367.30" cy="230.2" r="1.6"/><circle cx="373.26" cy="231.6" r="1.6"/><circle cx="379.21" cy="229.5" r="1.6"/><circle cx="385.17" cy="217.6" r="1.6"/><circle cx="391.12" cy="195.9" r="1.6"/><circle cx="397.08" cy="186.8" r="1.6"/><circle cx="403.04" cy="274.0" r="1.6"/><circle cx="408.99" cy="286.6" r="1.6"/><circle cx="414.95" cy="278.8" r="1.6"/><circle cx="420.90" cy="248.6" r="1.6"/><circle cx="426.86" cy="251.0" r="1.6"/><circle cx="432.82" cy="289.0" r="1.6"/><circle cx="438.77" cy="345.0" r="1.6"/><circle cx="444.73" cy="262.4" r="1.6"/><circle cx="450.68" cy="197.9" r="1.6"/><circle cx="456.64" cy="183.2" r="1.6"/><circle cx="462.60" cy="191.6" r="1.6"/><circle cx="468.55" cy="195.1" r="1.6"/><circle cx="474.51" cy="199.3" r="1.6"/><circle cx="480.46" cy="203.1" r="1.6"/><circle cx="486.42" cy="209.1" r="1.6"/><circle cx="492.38" cy="207.7" r="1.6"/><circle cx="498.33" cy="207.0" r="1.6"/><circle cx="504.29" cy="216.8" r="1.6"/><circle cx="510.24" cy="215.5" r="1.6"/><circle cx="516.20" cy="215.5" r="1.6"/><circle cx="522.16" cy="219.0" r="1.6"/><circle cx="528.11" cy="218.3" r="1.6"/><circle cx="534.07" cy="207.8" r="1.6"/><circle cx="540.02" cy="199.4" r="1.6"/><circle cx="545.98" cy="160.8" r="1.6"/><circle cx="551.94" cy="165.0" r="1.6"/><circle cx="557.89" cy="160.8" r="1.6"/><circle cx="563.85" cy="151.0" r="1.6"/><circle cx="569.80" cy="120.9" r="1.6"/><circle cx="575.76" cy="121.9" r="1.6"/><circle cx="581.72" cy="140.5" r="1.6"/><circle cx="587.67" cy="172.9" r="1.6"/><circle cx="593.63" cy="177.8" r="1.6"/><circle cx="599.58" cy="162.5" r="1.6"/><circle cx="605.54" cy="152.8" r="1.6"/><circle cx="611.50" cy="142.5" r="1.6"/><circle cx="617.45" cy="113.8" r="1.6"/><circle cx="623.41" cy="112.4" r="1.6"/><circle cx="629.36" cy="153.5" r="1.6"/><circle cx="635.32" cy="170.6" r="1.6"/><circle cx="641.28" cy="165.9" r="1.6"/><circle cx="647.23" cy="179.2" r="1.6"/><circle cx="653.19" cy="185.5" r="1.6"/><circle cx="659.14" cy="181.3" r="1.6"/><circle cx="665.10" cy="187.6" r="1.6"/><circle cx="671.06" cy="194.6" r="1.6"/><circle cx="677.01" cy="168.5" r="1.6"/><circle cx="682.97" cy="119.0" r="1.6"/><circle cx="688.92" cy="69.6" r="1.6"/><circle cx="694.88" cy="84.3" r="1.6"/><circle cx="700.84" cy="118.4" r="1.6"/><circle cx="706.79" cy="148.0" r="1.6"/><circle cx="712.75" cy="170.2" r="1.6"/><circle cx="718.70" cy="159.7" r="1.6"/><circle cx="724.66" cy="80.8" r="1.6"/><circle cx="730.62" cy="78.0" r="1.6"/><circle cx="736.57" cy="154.0" r="1.6"/><circle cx="742.53" cy="162.0" r="1.6"/><circle cx="748.48" cy="174.3" r="1.6"/><circle cx="754.44" cy="174.3" r="1.6"/><circle cx="760.40" cy="174.3" r="1.6"/><circle cx="766.35" cy="179.2" r="1.6"/><circle cx="772.31" cy="190.4" r="1.6"/><circle cx="778.26" cy="193.3" r="1.6"/><circle cx="784.22" cy="216.6" r="1.6"/><circle cx="790.18" cy="219.4" r="1.6"/><circle cx="796.13" cy="219.7" r="1.6"/><circle cx="802.09" cy="220.1" r="1.6"/><circle cx="808.04" cy="217.3" r="1.6"/><circle cx="814.00" cy="223.6" r="1.6"/><circle cx="819.96" cy="218.0" r="1.6"/><circle cx="825.91" cy="206.8" r="1.6"/><circle cx="831.87" cy="172.5" r="1.6"/><circle cx="837.82" cy="185.8" r="1.6"/><circle cx="843.78" cy="206.0" r="1.6"/><circle cx="849.74" cy="209.4" r="1.6"/><circle cx="855.69" cy="210.8" r="1.6"/><circle cx="861.65" cy="213.6" r="1.6"/><circle cx="867.60" cy="218.5" r="1.6"/><circle cx="873.56" cy="218.5" r="1.6"/><circle cx="879.52" cy="217.1" r="1.6"/><circle cx="885.47" cy="216.4" r="1.6"/><circle cx="891.43" cy="217.1" r="1.6"/><circle cx="897.38" cy="210.1" r="1.6"/><circle cx="903.34" cy="213.7" r="1.6"/><circle cx="909.30" cy="208.2" r="1.6"/><circle cx="915.25" cy="213.1" r="1.6"/><circle cx="921.21" cy="222.9" r="1.6"/><circle cx="927.16" cy="229.6" r="1.6"/><circle cx="933.12" cy="245.3" r="1.6"/><circle cx="939.08" cy="250.9" r="1.6"/><circle cx="945.03" cy="262.8" r="1.6"/><circle cx="950.99" cy="256.5" r="1.6"/><circle cx="956.94" cy="238.5" r="1.6"/><circle cx="962.90" cy="219.2" r="1.6"/><circle cx="968.86" cy="219.0" r="1.6"/><circle cx="974.81" cy="244.6" r="1.6"/><circle cx="980.77" cy="271.2" r="1.6"/><circle cx="986.72" cy="257.2" r="1.6"/><circle cx="992.68" cy="247.0" r="1.6"/><circle cx="998.64" cy="236.0" r="1.6"/><circle cx="1004.59" cy="223.9" r="1.6"/><circle cx="1010.55" cy="200.1" r="1.6"/><circle cx="1016.50" cy="184.0" r="1.6"/><circle cx="1022.46" cy="215.9" r="1.6"/><circle cx="1028.42" cy="216.8" r="1.6"/><circle cx="1034.37" cy="218.0" r="1.6"/><circle cx="1040.33" cy="212.8" r="1.6"/><circle cx="1046.28" cy="213.8" r="1.6"/><circle cx="1052.24" cy="220.8" r="1.6"/><circle cx="1058.20" cy="220.8" r="1.6"/><circle cx="1064.15" cy="221.6" r="1.6"/>
</g>
<rect x="69" y="44" width="1" height="406" fill="#d6d6d6"/>
</svg></body></html>
